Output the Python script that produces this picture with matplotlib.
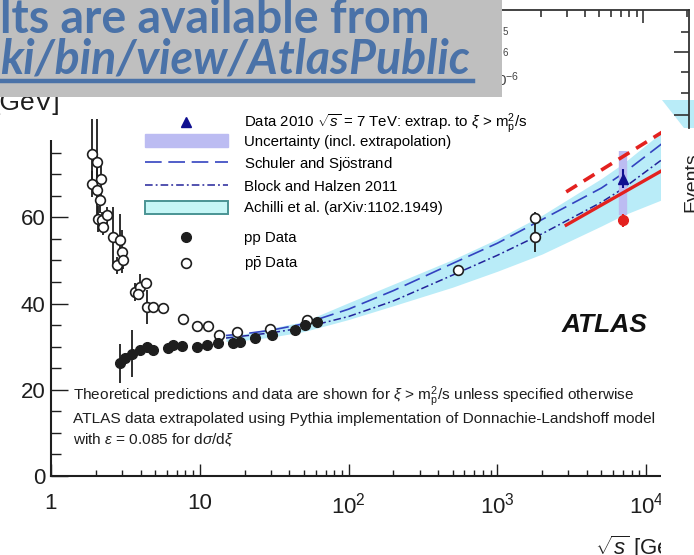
import matplotlib
matplotlib.use("Agg")
import matplotlib.pyplot as plt
from matplotlib.lines import Line2D
from matplotlib.patches import Patch, Rectangle, Polygon
from matplotlib.ticker import MultipleLocator, FixedLocator, FuncFormatter, NullFormatter

# inelastic cross section vs sqrt(s): p-pbar data
pbarp_sqrt_s = [1.88, 2.03, 1.88, 2.17, 2.03, 2.14, 2.08, 2.19, 2.25, 2.37, 2.62, 2.91,
                2.98, 2.79, 3.06, 3.67, 3.96, 4.35, 3.86, 4.40, 4.87, 5.63, 7.67, 9.63,
                11.4, 13.5, 17.9, 29.7, 52.3, 546, 1800, 1800]
pbarp_sigma = [74.8, 72.8, 67.8, 69.0, 66.3, 64.0, 59.7, 59.3, 57.8, 60.5, 55.5, 54.7,
               52.0, 48.9, 50.0, 42.7, 43.9, 44.8, 42.3, 39.2, 39.1, 38.9, 36.5, 34.8,
               34.8, 32.7, 33.4, 34.2, 36.2, 47.8, 59.8, 55.5]
pbarp_err = [8, 10, 3, 4, 6, 3, 3, 2, 2, 2, 7, 6,
             5, 2, 2, 2, 3, 1, 1, 4, 0.5, 0.5, 0.5, 0.5,
             0.5, 0.5, 0.5, 0.5, 0.5, 1.0, 1.5, 3.5]

# p-p data
pp_sqrt_s = [2.91, 3.14, 3.49, 3.96, 4.40, 4.87, 6.15, 6.64, 7.56, 9.53, 11.1, 13.3,
             16.8, 18.7, 23.5, 30.5, 43.7, 51.0, 61.1]
pp_sigma = [26.1, 27.3, 28.4, 29.2, 30.0, 29.2, 29.6, 30.4, 30.1, 30.0, 30.4, 30.8,
            30.9, 31.1, 31.9, 32.7, 33.8, 35.0, 35.8]
pp_err = [4.5, 1.0, 5.5, 1.0, 1.0, 1.0, 1.0, 1.0, 0.8, 0.5, 0.5, 0.5,
          0.5, 0.5, 0.3, 0.3, 0.3, 0.3, 0.3]

# model predictions
model_sqrt_s = [15, 20, 30, 50, 100, 200, 500, 1000, 2000, 5000, 7000, 13000]
schuler_sjostrand = [32.6, 33.0, 33.8, 35.3, 38.7, 43.0, 49.3, 54.0, 59.5, 66.8, 70.2, 77.3]
block_halzen = [32.0, 32.5, 33.2, 34.4, 37.0, 40.6, 46.6, 51.2, 56.2, 63.5, 66.7, 73.6]
achilli_low = [31.2, 31.5, 32.2, 33.5, 36.3, 39.5, 43.8, 47.5, 51.5, 58.0, 60.5, 64.2]
achilli_high = [32.8, 33.0, 34.3, 35.8, 40.2, 44.5, 50.2, 55.0, 60.5, 69.0, 72.5, 80.0]

# predictions with the xi cut, near the LHC point
xi_cut_sqrt_s = [2900, 13000]
ss_xi_cut = [65.9, 79.9]
bh_xi_cut = [58.2, 71.0]

# ATLAS 2010
atlas_sqrt_s = 7000
atlas_xi = 59.3
atlas_xi_err = 1.5
atlas_inel = 69.0
atlas_inel_err = 2.2
atlas_extrap_lo = 60.6
atlas_extrap_hi = 75.3

xtick_labels = {1: "1", 10: "10", 100: "$10^{2}$", 1000: "$10^{3}$", 10000: "$10^{4}$"}

W, H = 694, 555


def fx(x):
    return x / W


def fy(y):
    return 1 - y / H


plt.rcParams["font.family"] = ["Liberation Sans", "DejaVu Sans"]
plt.rcParams["mathtext.fontset"] = "custom"
plt.rcParams["mathtext.rm"] = "Liberation Sans"
plt.rcParams["mathtext.it"] = "Liberation Sans:italic"
plt.rcParams["mathtext.bf"] = "Liberation Sans:bold"

BAND = "#b9ecf8"
LAVENDER = "#bcbcf2"
BLUE = "#3343c0"
DBLUE = "#23239a"
RED = "#e3211f"
NAVY = "#101090"
INK = "#1e1e1e"

fig = plt.figure(figsize=(W / 100, H / 100), dpi=100)
fig.patch.set_facecolor("white")

ax = fig.add_axes([fx(51), fy(476), fx(691) - fx(51), fy(88) - fy(476)])
ax.set_xscale("log")
ax.set_xlim(1, 2e4)
ax.set_ylim(0, 90)

ax.fill_between(model_sqrt_s, achilli_low, achilli_high, color=BAND, lw=0, zorder=1)
ax.plot(model_sqrt_s, schuler_sjostrand, color=BLUE, lw=1.2, dashes=(10, 4), zorder=2)
ax.plot(model_sqrt_s, block_halzen, color=DBLUE, lw=1.1, dashes=(5, 2, 1.2, 2), zorder=2)

ax.vlines(atlas_sqrt_s, atlas_extrap_lo, atlas_extrap_hi, color=LAVENDER, lw=6, zorder=3)

ax.errorbar(pbarp_sqrt_s, pbarp_sigma, yerr=pbarp_err, fmt="o", ms=7, mfc="white",
            mec=INK, mew=1.2, ecolor=INK, elinewidth=1.3, capsize=0, zorder=4)
ax.errorbar(pp_sqrt_s, pp_sigma, yerr=pp_err, fmt="o", ms=7, color=INK,
            elinewidth=1.3, capsize=0, zorder=4)

ax.plot(xi_cut_sqrt_s, ss_xi_cut, color=RED, lw=2.6, dashes=(3.5, 2.2), zorder=5)
ax.plot(xi_cut_sqrt_s, bh_xi_cut, color=RED, lw=2.4, zorder=5)

ax.errorbar(atlas_sqrt_s, atlas_inel, yerr=atlas_inel_err, fmt="^", ms=7,
            color=NAVY, elinewidth=1.5, capsize=0, zorder=6)
ax.errorbar(atlas_sqrt_s, atlas_xi, yerr=atlas_xi_err, fmt="o", ms=7,
            color=RED, elinewidth=1.5, capsize=0, zorder=6)

# axes styling, ticks inside
for side in ("top", "right"):
    ax.spines[side].set_visible(False)
for side in ("left", "bottom"):
    ax.spines[side].set_linewidth(1.5)
    ax.spines[side].set_color(INK)
ax.yaxis.set_major_locator(MultipleLocator(20))
ax.yaxis.set_minor_locator(MultipleLocator(5))
ax.xaxis.set_major_locator(FixedLocator(list(xtick_labels)))
ax.xaxis.set_major_formatter(FuncFormatter(lambda v, p: xtick_labels.get(int(round(v)), "")))
ax.xaxis.set_minor_formatter(NullFormatter())
ax.tick_params(which="both", direction="in", colors=INK, labelsize=16, top=False, right=False)
ax.tick_params(axis="y", which="major", length=12.5, width=1.0, pad=4)
ax.tick_params(axis="y", which="minor", length=7, width=1.0)
ax.tick_params(axis="x", which="major", length=8.5, width=1.0, pad=12)
ax.tick_params(axis="x", which="minor", length=4, width=1.0)
ax.set_xlabel(r"$\sqrt{s}$ [GeV]", loc="right", fontsize=16, labelpad=11, color=INK)

# legends: header row, model entries, data entries
txt = 10.8
leg_x = (145 - 51) / 640
common = dict(loc="upper left", frameon=False, fontsize=txt, handlelength=5.5,
              handletextpad=1.1, borderpad=0, borderaxespad=0)
leg0 = ax.legend(
    handles=[Line2D([], [], marker="^", ls="none", ms=7, color=NAVY)],
    labels=[r"Data 2010 $\sqrt{s}$ = 7 TeV: extrap. to $\xi$ > m$_{\rm p}^{2}$/s"],
    bbox_to_anchor=(leg_x, (476 - 112) / 388), **common,
)
ax.add_artist(leg0)
leg1 = ax.legend(
    handles=[
        Patch(facecolor=LAVENDER, edgecolor=LAVENDER),
        Line2D([], [], color=BLUE, lw=1.2, dashes=(10, 4)),
        Line2D([], [], color=DBLUE, lw=1.1, dashes=(5, 2, 1.2, 2)),
        Patch(facecolor="#c6f6f6", edgecolor="#4a9494", lw=1.4),
    ],
    labels=[
        "Uncertainty (incl. extrapolation)",
        "Schuler and Sj$\\ddot{\\rm o}$strand",
        "Block and Halzen 2011",
        "Achilli et al. (arXiv:1102.1949)",
    ],
    bbox_to_anchor=(leg_x, (476 - 134) / 388), handleheight=1.0, labelspacing=0.42,
    **common,
)
ax.add_artist(leg1)
ax.legend(
    handles=[
        Line2D([], [], marker="o", ls="none", ms=7, color=INK),
        Line2D([], [], marker="o", ls="none", ms=7, mfc="white", mec=INK, mew=1.2),
    ],
    labels=["pp Data", r"p$\bar{\rm p}$ Data"],
    bbox_to_anchor=(leg_x, (476 - 231) / 388), labelspacing=0.7, **common,
)

notes = [
    r"Theoretical predictions and data are shown for $\xi$ > m$_{\rm p}^{2}$/s unless specified otherwise",
    "ATLAS data extrapolated using Pythia implementation of Donnachie-Landshoff model",
    r"with $\epsilon$ = 0.085 for d$\sigma$/d$\xi$",
]
for i, line in enumerate(notes):
    ax.text((73 - 51) / 640, (476 - 397 - 21.5 * i) / 388, line, transform=ax.transAxes,
            fontsize=11.1, va="center", ha="left", color=INK)

ax.text((647 - 51) / 640, (476 - 325) / 388, "ATLAS", transform=ax.transAxes,
        fontsize=19, fontweight="bold", fontstyle="italic", ha="right", va="center",
        color="#111111")

# slide content around the chart
fig.add_artist(Rectangle((fx(661), 0), 1 - fx(661), fy(97), transform=fig.transFigure,
                         facecolor="white", edgecolor="none", zorder=5))
fig.add_artist(Polygon([(fx(662), fy(100)), (1, fy(100)), (1, fy(128)), (fx(684), fy(128))],
                       closed=True, transform=fig.transFigure, facecolor=BAND,
                       edgecolor="none", zorder=6))

bg = fig.add_axes([fx(350), fy(128), fx(689) - fx(350), fy(10) - fy(128)], zorder=7)
bg.patch.set_visible(False)
bg.set_xscale("log")
bg.set_xlim(1e2, 2.05e4)
bg.set_ylim(0, 1)
for side in ("bottom", "left"):
    bg.spines[side].set_visible(False)
for side in ("top", "right"):
    bg.spines[side].set_linewidth(1.3)
    bg.spines[side].set_color("#333333")
bg.xaxis.set_ticks_position("top")
bg.yaxis.set_ticks_position("right")
bg.set_yticks([0.11, 0.644])
bg.set_yticks([0.297, 0.475, 0.814], minor=True)
bg.tick_params(which="both", direction="in", labeltop=False, labelright=False,
               labelbottom=False, labelleft=False, colors="#333333", width=1.2)
bg.tick_params(axis="x", which="major", length=9.5)
bg.tick_params(axis="x", which="minor", length=5)
bg.tick_params(axis="y", which="major", length=11)
bg.tick_params(axis="y", which="minor", length=6)

fig.text(fx(683), fy(212), "Events", rotation=90, fontsize=14, ha="left", va="bottom",
         color="#222222", zorder=8)
fig.text(fx(503), fy(32), "5", fontsize=7, ha="left", va="center", color="#444444", zorder=8)
fig.text(fx(503), fy(53), "6", fontsize=7, ha="left", va="center", color="#444444", zorder=8)
fig.text(fx(497), fy(80), "$0^{-6}$", fontsize=11, ha="left", va="center", color="#444444",
         zorder=8)

fig.add_artist(Rectangle((0, fy(140)), fx(76), fy(97) - fy(140), transform=fig.transFigure,
                         facecolor="white", edgecolor="none", zorder=5))
fig.text(fx(60), fy(110), "[GeV]", fontsize=19, ha="right", va="baseline", color=INK, zorder=6)

# grey banner
fig.add_artist(Rectangle((0, fy(97)), fx(502), 1 - fy(97), transform=fig.transFigure,
                         facecolor="#bfbfbf", edgecolor="none", zorder=10))
BANNER_BLUE = "#4a72a8"
fig.text(0, fy(33), "lts are available from", fontsize=33.5, fontweight="bold",
         family="Lato", color=BANNER_BLUE, ha="left", va="baseline", zorder=11)
fig.text(0, fy(73), "ki/bin/view/AtlasPublic", fontsize=33.5, fontweight="bold",
         fontstyle="italic", family="Lato", color=BANNER_BLUE, ha="left", va="baseline",
         zorder=11)
fig.add_artist(Line2D([0, fx(473)], [fy(81), fy(81)], transform=fig.transFigure,
                      color=BANNER_BLUE, lw=3.2, zorder=11))

fig.savefig("out.png", dpi=100)
